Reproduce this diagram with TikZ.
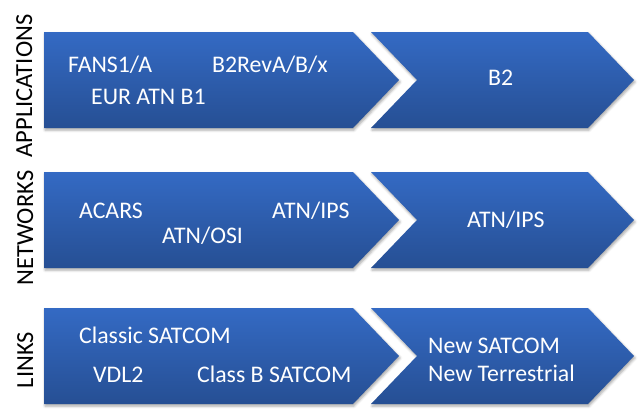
\documentclass[tikz,border=0pt]{standalone}
\usepackage{fontspec}
\setmainfont{Carlito}
\usetikzlibrary{shadows.blur}
\definecolor{bandtop}{RGB}{52,106,196}
\definecolor{bandbot}{RGB}{38,79,148}
\tikzset{
  band/.style={top color=bandtop, bottom color=bandbot,
    blur shadow={shadow xshift=1pt, shadow yshift=-2pt, shadow blur radius=2.5pt, shadow opacity=35}},
  item/.style={text=white, font=\fontsize{23.8}{26}\selectfont, inner sep=0pt, anchor=base west},
  rowlabel/.style={rotate=90, font=\fontsize{24.5}{28}\selectfont, inner sep=0pt, anchor=base}
}
\begin{document}
\begin{tikzpicture}[x=1pt,y=-1pt]
    \useasboundingbox (0,0) rectangle (640,415);
    % the three rows of arrows
    \foreach \t in {32,172,308} {
        \path[band] (44,\t) -- (353,\t) -- (399,\t+48) -- (353,\t+96) -- (44,\t+96) -- cycle;
        \path[band] (371,\t) -- (588,\t) -- (634,\t+48) -- (588,\t+96) -- (371,\t+96) -- (417,\t+48) -- cycle;
    }
    % row labels
    \node[rowlabel] (applications) at (32,86) {APPLICATIONS};
    \node[rowlabel] (networks) at (33,228) {NETWORKS};
    \node[rowlabel] (links) at (33,360) {LINKS};
    % applications
    \node[item] (fans) at (68,72) {FANS1/A};
    \node[item] (b2rev) at (212,72) {B2RevA/B/x};
    \node[item] (eur) at (91,104) {EUR ATN B1};
    \node[item] (b2) at (488,85) {B2};
    % networks
    \node[item] (acars) at (79,218) {ACARS};
    \node[item] (ipsold) at (272,218) {ATN/IPS};
    \node[item] (osi) at (162,243) {ATN/OSI};
    \node[item] (ipsnew) at (467,227) {ATN/IPS};
    % links
    \node[item] (classic) at (79,343) {Classic SATCOM};
    \node[item] (vdl) at (93,382) {VDL2};
    \node[item] (classb) at (197,382) {Class B SATCOM};
    \node[item] (newsat) at (428,353) {New SATCOM};
    \node[item] (newterr) at (428,381) {New Terrestrial};
\end{tikzpicture}
\end{document}
